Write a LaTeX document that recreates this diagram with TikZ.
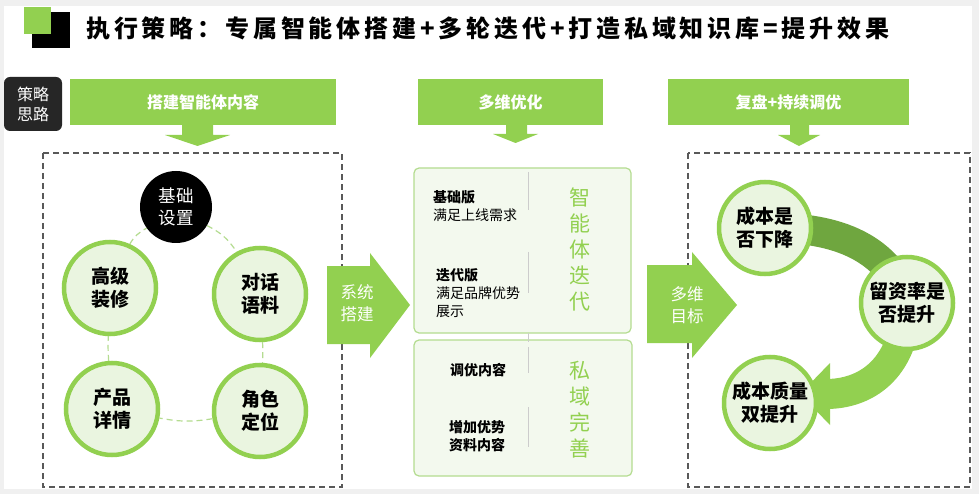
\documentclass[tikz,border=0pt]{standalone}
\usepackage{fontspec}
\newfontfamily\cjk{Noto Sans CJK SC}
\newfontfamily\cjkt{Noto Sans CJK SC}[LetterSpace=16]
\usepackage{tikz}
\usetikzlibrary{positioning}
\usetikzlibrary{calc,backgrounds}
\definecolor{gr}{HTML}{92D050}
\definecolor{dgr}{HTML}{6FA63F}
\definecolor{lgr}{HTML}{EAF5E0}
\definecolor{pgr}{HTML}{F3F9EE}
\definecolor{bgr}{HTML}{B4DC90}
\definecolor{pagegray}{HTML}{F0F0F0}
\tikzset{
  bar/.style={fill=gr, text=white, minimum height=46pt, inner sep=0pt, font=\cjk\fontsize{16}{18}\selectfont\bfseries},
  ring/.style={circle, fill=lgr, draw=gr, line width=4.5pt, minimum size=92pt, inner sep=0pt, align=center, font=\cjk\fontsize{19}{23}\selectfont\bfseries},
  panel/.style={rounded corners=5pt, fill=pgr, draw=bgr, line width=1.2pt},
  lbl/.style={inner sep=0pt, align=left, font=\cjk\fontsize{14}{18}\selectfont},
  vtxt/.style={inner sep=0pt, align=center, text=gr, font=\cjk\fontsize{21}{26}\selectfont},
  frame/.style={draw=black!65, line width=1.2pt, dash pattern=on 6pt off 4pt},
  link/.style={draw=bgr, line width=1.2pt, dash pattern=on 6pt off 4pt},
  sep/.style={draw=black!20, line width=0.8pt},
  arrtxt/.style={text=white, align=center, font=\cjk\fontsize{16.5}{22}\selectfont}
}
\begin{document}
\begin{tikzpicture}[x=1pt,y=-1pt]
\useasboundingbox (0,0) rectangle (979,494);
% title
\fill[black] (32,12) rectangle (70,48);
\fill[gr] (24,7) rectangle (51,34);
\node[anchor=west, inner sep=0pt, font=\cjkt\fontsize{24}{28}\selectfont\bfseries] (title) at (86,28) {执行策略：专属智能体搭建+多轮迭代+打造私域知识库=提升效果};
% header bars
\node[fill=black!85, rounded corners=6pt, minimum width=58pt, minimum height=54pt, inner sep=0pt, text=white, align=center, font=\cjk\fontsize{16}{20}\selectfont] (sl) at (33,104) {策略\\思路};
\node[bar, minimum width=266pt] (b1) at (203,102) {搭建智能体内容};
\node[bar, minimum width=185pt] (b2) at (510.5,102.5) {多维优化};
\node[bar, minimum width=241pt] (b3) at (788.5,102) {复盘+持续调优};
\fill[gr] (182,125) -- (213,125) -- (213,135) -- (230,135) -- (197.5,146) -- (165,135) -- (182,135) -- cycle;
\fill[gr] (506,125) -- (527,125) -- (527,134) -- (538,134) -- (515.5,143) -- (493,134) -- (506,134) -- cycle;
\fill[gr] (790,124) -- (809,124) -- (809,135) -- (820,135) -- (799,146) -- (778,135) -- (790,135) -- cycle;
% left panel
\draw[frame] (43,153) rectangle (342,487);
\node[circle, fill=black, minimum size=72pt, inner sep=0pt, text=white, align=center, font=\cjk\fontsize{17.5}{22}\selectfont] (jc) at (176,207) {基础\\设置};
\node[ring] (gj) at (110,288) {高级\\装修};
\node[ring] (dh) at (260,294) {对话\\语料};
\node[ring] (cp) at (112,409) {产品\\详情};
\node[ring] (js) at (260,411) {角色\\定位};
\draw[link] (jc) to[bend left=15] (dh);
\draw[link] (dh) to[bend left=3] (js);
\draw[link] (js) to[bend left=10] (cp);
\draw[link] (cp) to[bend left=3] (gj);
\draw[link] (gj) to[bend left=15] (jc);
\fill[gr] (327,266) -- (370,266) -- (370,253) -- (410,305) -- (370,358) -- (370,344) -- (327,344) -- cycle;
\node[arrtxt] (xt) at (357,303) {系统\\搭建};
% middle panel
\node[panel, minimum width=217pt, minimum height=165pt] (pu) at (522.5,250.5) {};
\node[panel, minimum width=218pt, minimum height=136pt] (pl) at (523,408) {};
\draw[sep] (528,172) -- (528,210);
\draw[sep] (528,252) -- (528,293);
\draw[sep] (528,333) -- (528,342);
\draw[sep] (528,347) -- (528,373);
\draw[sep] (528,407) -- (528,447);
\node[lbl, anchor=west] (t1) at (433,206) {\textbf{基础版}\\满足上线需求};
\node[lbl, anchor=west] (t2) at (436,293) {\textbf{迭代版}\\满足品牌优势\\展示};
\node[lbl] (t3) at (478,370) {\textbf{调优内容}};
\node[lbl, align=center] (t4) at (477,436) {\textbf{增加优势}\\\textbf{资料内容}};
\node[vtxt] (v1) at (580,250) {智\\能\\体\\迭\\代};
\node[vtxt] (v2) at (580,410) {私\\域\\完\\善};
% right panel
\draw[frame] (688,153) rectangle (970,487);
\fill[gr] (647,265) -- (692,265) -- (692,252) -- (737,305) -- (692,358) -- (692,343) -- (647,343) -- cycle;
\node[arrtxt] (dm) at (687,305) {多维\\目标};
\node[ring] (cb) at (765,228) {成本是\\否下降};
\node[ring] (lz) at (907,303) {留资率是\\否提升};
\node[ring] (zl) at (770,403) {成本质量\\双提升};
\begin{scope}[on background layer]
\fill[pagegray] (0,0) rectangle (979,494);
\fill[white] (4,6) rectangle (972,489);
\draw[line width=30pt, dgr] (cb.center) .. controls (840,226) and (890,250) .. (lz.center);
\draw[line width=30pt, gr] (lz.center) .. controls (905,365) and (870,393) .. (828,394);
\fill[gr] (830,363) -- (830,425) -- (800,394) -- cycle;
\end{scope}
\end{tikzpicture}
\end{document}
